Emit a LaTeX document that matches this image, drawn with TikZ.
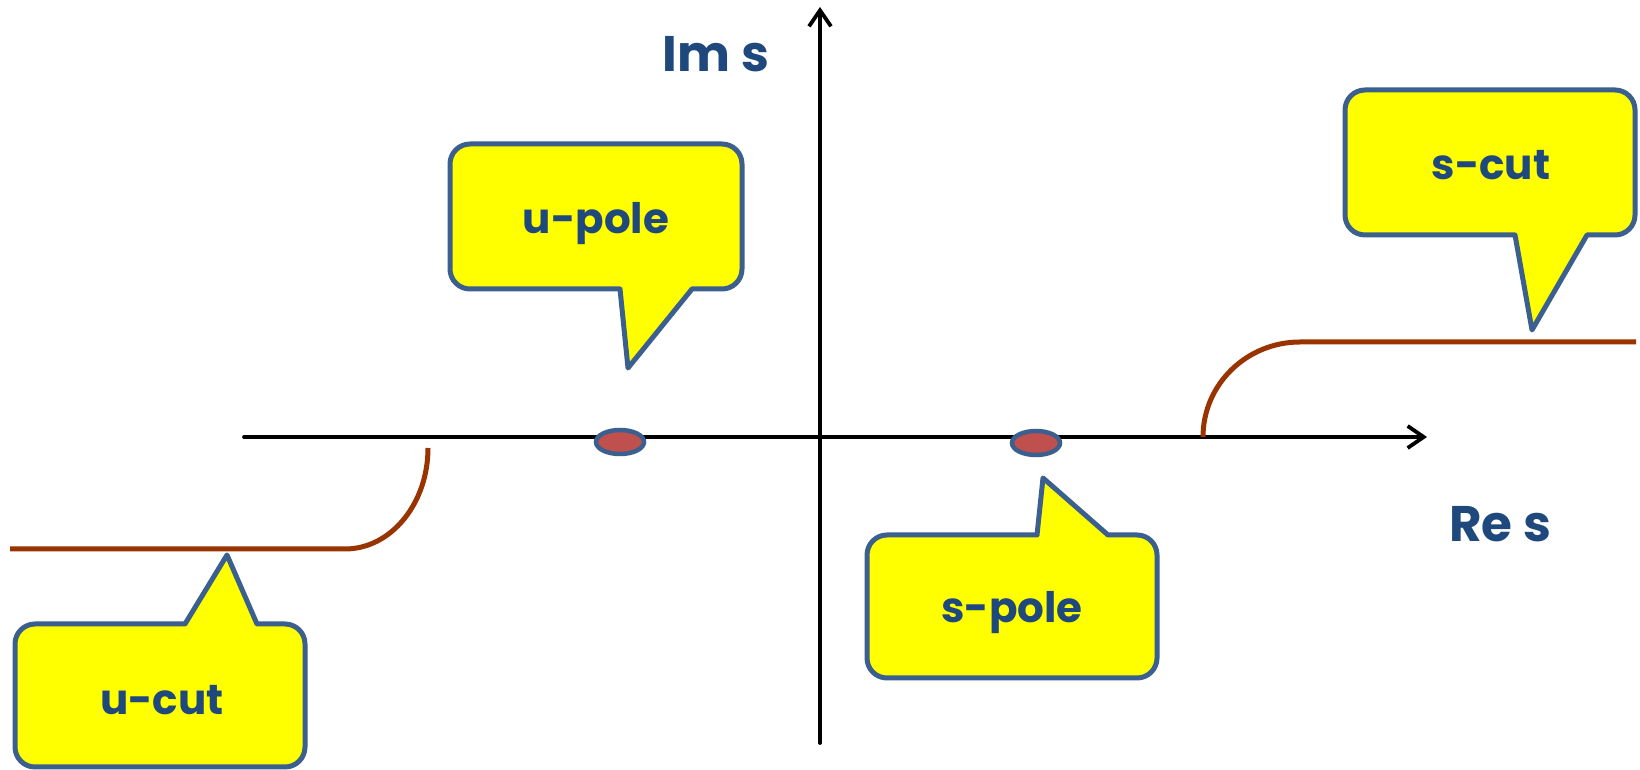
\documentclass[tikz,border=0pt]{standalone}
\usepackage{fontspec}
\setmainfont{Poppins}
\usetikzlibrary{arrows.meta,shapes.geometric}
\definecolor{calloutfill}{HTML}{FFFF00}
\definecolor{calloutedge}{HTML}{3B5F8F}
\definecolor{labelblue}{HTML}{1F497D}
\definecolor{cutbrown}{HTML}{993300}
\definecolor{polered}{HTML}{C0504D}
\tikzset{
  x=1pt,y=1pt,
  axis/.style={line width=3.8pt,draw=black,-{Straight Barb[length=16pt,width=22pt,line width=3.8pt]},line cap=round},
  cut/.style={line width=5pt,draw=cutbrown},
  callout/.style={line width=5pt,draw=calloutedge,fill=calloutfill,line join=round},
  pole/.style={ellipse,draw=calloutedge,fill=polered,line width=4.5pt,minimum width=48pt,minimum height=24pt,inner sep=0pt},
  boxtext/.style={text=labelblue,font=\fontsize{42}{48}\selectfont\bfseries,anchor=base,inner sep=0pt},
  axtext/.style={text=labelblue,font=\fontsize{50}{58}\selectfont\bfseries,anchor=base,inner sep=0pt}
}
\begin{document}
\begin{tikzpicture}
\useasboundingbox (0,0) rectangle (1640,770);
% axes
\coordinate (xl) at (244,333);
\coordinate (xr) at (1427,333);
\coordinate (yb) at (820,27);
\coordinate (yt) at (820,763);
\draw[axis] (xl) -- (xr);
\draw[axis] (yb) -- (yt);
% cuts
\coordinate (ucs) at (10,221);
\coordinate (uce) at (345,221);
\draw[cut] (ucs) -- (uce) arc[start angle=270,end angle=360,x radius=83,y radius=101];
\coordinate (scs) at (1203,333);
\draw[cut] (scs) arc[start angle=180,end angle=90,x radius=97,y radius=95] -- (1636,428);
% poles
\node[pole] (upole) at (620,328) {};
\node[pole] (spole) at (1036,327) {};
% callout u-pole (pointer below)
\draw[callout] (620,481) -- (628,402) -- (692,481) -- (722,481) arc[start angle=270,end angle=360,radius=20]
  -- (742,606) arc[start angle=0,end angle=90,radius=20] -- (470,626) arc[start angle=90,end angle=180,radius=20]
  -- (450,501) arc[start angle=180,end angle=270,radius=20] -- cycle;
% callout s-cut (pointer below)
\draw[callout] (1515,535) -- (1532,440) -- (1587,535) -- (1615,535) arc[start angle=270,end angle=360,radius=20]
  -- (1635,660) arc[start angle=0,end angle=90,radius=20] -- (1365,680) arc[start angle=90,end angle=180,radius=20]
  -- (1345,555) arc[start angle=180,end angle=270,radius=20] -- cycle;
% callout u-cut (pointer above)
\draw[callout] (185,146) -- (227,215) -- (257,146) -- (285,146) arc[start angle=90,end angle=0,radius=20]
  -- (305,23) arc[start angle=0,end angle=-90,radius=20] -- (35,3) arc[start angle=270,end angle=180,radius=20]
  -- (15,126) arc[start angle=180,end angle=90,radius=20] -- cycle;
% callout s-pole (pointer above)
\draw[callout] (1037,235) -- (1043,292) -- (1108,235) -- (1137,235) arc[start angle=90,end angle=0,radius=20]
  -- (1157,112) arc[start angle=0,end angle=-90,radius=20] -- (887,92) arc[start angle=270,end angle=180,radius=20]
  -- (867,215) arc[start angle=180,end angle=90,radius=20] -- cycle;
% texts
\node[boxtext] (tup) at (596,536) {u-pole};
\node[boxtext] (tuc) at (162,55) {u-cut};
\node[boxtext] (tsp) at (1012,147) {s-pole};
\node[boxtext] (tsc) at (1491,590) {s-cut};
\node[axtext] (tim) at (716,698) {Im s};
\node[axtext] (tre) at (1500,228) {Re s};
\end{tikzpicture}
\end{document}
